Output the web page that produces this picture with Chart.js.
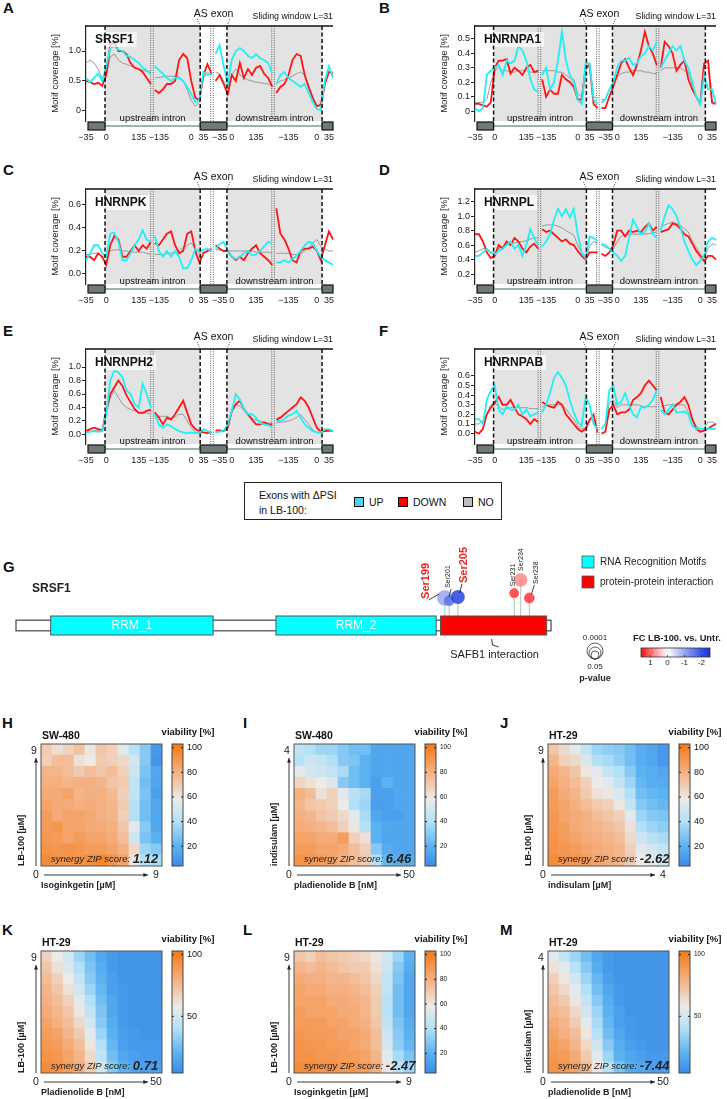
<!DOCTYPE html>
<html>
<head>
<meta charset="utf-8">
<title>LB-100 motif coverage, SRSF1 sites and drug synergy</title>
<script src="https://cdn.jsdelivr.net/npm/chart.js@4.4.1/dist/chart.umd.min.js"></script>
<style>
  body { margin: 0; background: #fff; }
  #page { position: relative; width: 727px; height: 1099px; overflow: hidden;
          font-family: "Liberation Sans", Arial, sans-serif; color: #111; }
  #page canvas { position: absolute; }
  .tag { position: absolute; font-weight: bold; font-size: 15px; line-height: 15px; }
  #psiLegend { position: absolute; left: 244px; top: 482px; width: 256px; height: 36px;
               border: 1.5px solid #222; font-size: 10.5px; }
  #psiLegend span { position: absolute; white-space: nowrap; line-height: 12px; }
  #psiLegend i { position: absolute; width: 10px; height: 10px; box-sizing: border-box; border: 1.5px solid #111; }
</style>
</head>
<body>
<div id="page">
  <div class="tag" style="left:3px;top:0px">A</div>
  <div class="tag" style="left:379px;top:0px">B</div>
  <div class="tag" style="left:3px;top:162px">C</div>
  <div class="tag" style="left:379px;top:162px">D</div>
  <div class="tag" style="left:3px;top:323px">E</div>
  <div class="tag" style="left:379px;top:323px">F</div>
  <div class="tag" style="left:3px;top:559px">G</div>
  <div class="tag" style="left:2px;top:715px">H</div>
  <div class="tag" style="left:243px;top:715px">I</div>
  <div class="tag" style="left:500px;top:715px">J</div>
  <div class="tag" style="left:2px;top:922px">K</div>
  <div class="tag" style="left:243px;top:922px">L</div>
  <div class="tag" style="left:500px;top:922px">M</div>
  <div id="psiLegend">
    <span style="left:14px;top:6px">Exons with ΔPSI</span>
    <span style="left:14px;top:21px">in LB-100:</span>
    <i style="left:109px;top:14px;background:#4fd3f3"></i><span style="left:124px;top:13px">UP</span>
    <i style="left:153px;top:14px;background:#ff0000"></i><span style="left:168px;top:13px">DOWN</span>
    <i style="left:218px;top:14px;background:#bdbdbd"></i><span style="left:233px;top:13px">NO</span>
  </div>
</div>
<script>
const FONT = '"Liberation Sans", Arial, sans-serif';
Chart.defaults.font.family = FONT;
Chart.defaults.color = '#222';

// ---------- A-F : motif coverage along the composite exon/intron axis ----------
const nPts = 62;
const tickIdx  = [0, 5, 13, 18, 26, 29, 33, 36, 42, 50, 57, 60];
const tickText = ['−35', '0', '135', '−135', '0', '35', '−35', '0', '135', '−135', '0', '35'];
const exonEdges = [4.7, 28.2, 34.8, 58.3];   // exon / intron borders (dashed)
const seqBreaks = [16.3, 31.1, 46.2];         // sequence breaks (dotted)

const motifGenes = ['SRSF1', 'HNRNPA1', 'HNRNPK', 'HNRNPL', 'HNRNPH2', 'HNRNPAB'];

const srsf1Up   = [0.55,0.48,0.55,0.62,0.5,0.75,1.05,1.08,1.02,1.0, 0.92,0.9,0.85,0.8,0.72,0.68,0.6,0.75,0.68,0.62, 0.55,0.5,0.55,0.55,0.5,0.4,0.28,0.15,0.18,0.65, 0.6,0.62,0.95,1.1,0.75,0.45,0.85,1.0,1.05,1.0, 0.92,0.88,0.95,0.88,0.85,0.8,0.62,0.45,0.6,0.65, 0.55,0.5,0.45,0.4,0.45,0.3,0.15,0.03,0.02,0.5, 0.75,0.55];
const srsf1Down = [0.5,0.48,0.45,0.47,0.42,0.6,1.1,1.15,1.0,1.0, 0.95,0.8,0.72,0.7,0.65,0.55,0.45,0.35,0.3,0.36, 0.45,0.45,0.5,0.85,0.95,0.88,0.5,0.22,0.18,0.6, 0.78,0.62,0.5,0.6,0.45,0.28,0.6,0.5,0.8,0.55, 0.7,0.6,0.72,0.75,0.62,0.55,0.4,0.3,0.4,0.45, 0.6,0.85,0.95,0.92,0.6,0.4,0.22,0.08,0.1,0.45, 0.65,0.62];
const srsf1No   = [0.8,0.85,0.8,0.7,0.55,0.6,0.9,0.95,0.85,0.8, 0.78,0.75,0.72,0.7,0.68,0.66,0.65,0.55,0.56,0.57, 0.58,0.58,0.58,0.57,0.5,0.35,0.18,0.08,0.15,0.55, 0.65,0.6,0.65,0.62,0.5,0.38,0.6,0.7,0.6,0.55, 0.52,0.5,0.48,0.47,0.46,0.45,0.43,0.45,0.5,0.52, 0.55,0.58,0.62,0.65,0.6,0.42,0.2,0.08,0.1,0.5, 0.65,0.65];

const hnrnpa1Up   = [0.02,0.0,0.02,0.25,0.28,0.3,0.32,0.25,0.35,0.33, 0.35,0.45,0.42,0.35,0.22,0.15,0.13,0.25,0.3,0.15, 0.2,0.35,0.55,0.35,0.25,0.2,0.08,0.05,0.33,0.33, 0.08,0.05,0.06,0.08,0.15,0.2,0.3,0.35,0.35,0.37, 0.32,0.33,0.38,0.4,0.45,0.42,0.48,0.3,0.35,0.4, 0.45,0.42,0.45,0.35,0.3,0.2,0.1,0.05,0.25,0.15, 0.15,0.05];
const hnrnpa1Down = [0.05,0.05,0.04,0.03,0.06,0.3,0.35,0.35,0.36,0.26, 0.3,0.28,0.25,0.3,0.32,0.27,0.28,0.22,0.1,0.15, 0.12,0.12,0.25,0.22,0.2,0.17,0.08,0.08,0.3,0.32, 0.05,0.02,0.02,0.02,0.1,0.17,0.25,0.33,0.36,0.3, 0.25,0.32,0.42,0.55,0.45,0.4,0.32,0.3,0.48,0.45, 0.4,0.28,0.32,0.35,0.22,0.15,0.1,0.05,0.33,0.35, 0.06,0.05];
const hnrnpa1No   = [0.06,0.06,0.06,0.08,0.2,0.28,0.3,0.28,0.28,0.27, 0.27,0.28,0.28,0.28,0.27,0.27,0.27,0.28,0.28,0.28, 0.28,0.27,0.27,0.25,0.23,0.22,0.12,0.1,0.3,0.3, 0.1,0.09,0.08,0.08,0.15,0.2,0.24,0.26,0.27,0.27, 0.28,0.28,0.28,0.27,0.27,0.26,0.26,0.28,0.3,0.3, 0.3,0.3,0.3,0.28,0.27,0.18,0.1,0.06,0.3,0.3, 0.05,0.05];

const hnrnpkUp   = [0.12,0.18,0.25,0.25,0.18,0.15,0.35,0.36,0.28,0.12, 0.12,0.18,0.25,0.3,0.38,0.3,0.28,0.33,0.2,0.15, 0.2,0.15,0.2,0.15,0.05,0.05,0.12,0.22,0.2,0.21, 0.22,0.2,0.22,0.26,0.28,0.2,0.15,0.13,0.15,0.18, 0.2,0.16,0.17,0.2,0.24,0.28,0.27,0.1,0.1,0.12, 0.1,0.13,0.16,0.2,0.25,0.28,0.27,0.2,0.15,0.12, 0.1,0.08];
const hnrnpkDown = [0.15,0.15,0.12,0.18,0.15,0.08,0.25,0.33,0.3,0.15, 0.15,0.2,0.25,0.2,0.25,0.22,0.28,0.27,0.25,0.3, 0.35,0.37,0.25,0.18,0.2,0.35,0.37,0.2,0.1,0.18, 0.2,0.22,0.25,0.22,0.2,0.2,0.15,0.12,0.15,0.12, 0.18,0.22,0.25,0.18,0.15,0.12,0.08,0.57,0.35,0.3, 0.22,0.12,0.1,0.2,0.22,0.22,0.24,0.2,0.12,0.25, 0.37,0.3];
const hnrnpkNo   = [0.17,0.17,0.18,0.18,0.15,0.17,0.2,0.21,0.21,0.2, 0.2,0.19,0.19,0.19,0.19,0.18,0.17,0.17,0.17,0.17, 0.18,0.18,0.19,0.2,0.23,0.25,0.27,0.22,0.18,0.19, 0.2,0.2,0.21,0.21,0.2,0.2,0.2,0.2,0.2,0.2, 0.2,0.2,0.19,0.19,0.19,0.19,0.18,0.18,0.18,0.18, 0.18,0.17,0.17,0.18,0.2,0.23,0.27,0.3,0.24,0.22, 0.2,0.2];

const hnrnplUp   = [0.45,0.45,0.5,0.55,0.5,0.47,0.52,0.55,0.6,0.65, 0.55,0.6,0.45,0.6,0.82,0.7,0.6,0.58,0.65,0.75, 0.95,1.1,1.0,1.1,0.98,1.1,0.75,0.5,0.42,0.72, 0.7,0.65,0.62,0.6,0.55,0.5,0.45,0.38,0.45,0.7, 0.95,0.85,0.75,0.78,0.9,0.75,0.7,0.8,1.0,1.15, 1.1,1.0,0.85,0.65,0.52,0.4,0.32,0.38,0.45,0.65, 0.7,0.67];
const hnrnplDown = [0.75,0.75,0.65,0.5,0.42,0.45,0.6,0.55,0.65,0.6, 0.7,0.65,0.55,0.5,0.58,0.62,0.55,0.82,0.78,0.8, 0.75,0.7,0.65,0.68,0.62,0.6,0.52,0.45,0.4,0.5, 0.5,0.5,0.48,0.45,0.5,0.6,0.8,0.8,0.72,0.8, 0.78,0.8,0.78,0.85,0.9,0.8,0.85,0.78,0.8,0.82, 0.9,0.88,0.83,0.75,0.72,0.62,0.52,0.45,0.38,0.45, 0.45,0.4];
const hnrnplNo   = [0.5,0.52,0.55,0.55,0.48,0.5,0.55,0.58,0.6,0.62, 0.63,0.64,0.65,0.66,0.68,0.7,0.7,0.86,0.88,0.88, 0.88,0.86,0.84,0.8,0.77,0.74,0.6,0.5,0.42,0.58, 0.65,0.62,0.6,0.57,0.55,0.55,0.65,0.72,0.74,0.75, 0.75,0.75,0.75,0.75,0.76,0.77,0.78,0.86,0.88,0.9, 0.92,0.9,0.87,0.83,0.78,0.66,0.57,0.48,0.42,0.55, 0.62,0.6];

const hnrnph2Up   = [0.03,0.04,0.05,0.04,0.05,0.3,0.8,0.95,0.92,0.85, 0.65,0.6,0.45,0.4,0.75,0.6,0.4,0.3,0.15,0.1, 0.15,0.12,0.08,0.05,0.03,0.02,0.03,0.02,0.03,0.08, 0.05,0.03,0.03,0.04,0.06,0.15,0.35,0.6,0.52,0.38, 0.3,0.3,0.25,0.17,0.15,0.14,0.1,0.2,0.2,0.23, 0.28,0.3,0.35,0.25,0.15,0.1,0.05,0.03,0.03,0.08, 0.08,0.05];
const hnrnph2Down = [0.05,0.08,0.1,0.08,0.06,0.35,0.6,0.7,0.8,0.72, 0.58,0.48,0.38,0.32,0.32,0.35,0.37,0.33,0.25,0.15, 0.25,0.22,0.3,0.4,0.5,0.32,0.15,0.08,0.05,0.03, 0.02,0.03,0.06,0.06,0.05,0.1,0.35,0.45,0.5,0.38, 0.3,0.22,0.15,0.15,0.18,0.15,0.15,0.22,0.25,0.3, 0.35,0.4,0.45,0.55,0.5,0.4,0.25,0.1,0.04,0.05, 0.06,0.05];
const hnrnph2No   = [0.05,0.05,0.06,0.06,0.07,0.3,0.55,0.65,0.55,0.45, 0.4,0.37,0.35,0.33,0.32,0.32,0.3,0.25,0.27,0.27, 0.27,0.24,0.26,0.3,0.3,0.2,0.1,0.03,0.02,0.03, 0.03,0.03,0.04,0.04,0.05,0.1,0.32,0.45,0.42,0.36, 0.28,0.24,0.21,0.2,0.18,0.17,0.17,0.17,0.18,0.19, 0.2,0.22,0.25,0.3,0.22,0.15,0.07,0.03,0.02,0.05, 0.05,0.05];

const hnrnpabUp   = [0.15,0.15,0.1,0.35,0.45,0.5,0.25,0.2,0.28,0.25, 0.25,0.3,0.2,0.25,0.18,0.2,0.22,0.22,0.3,0.42, 0.58,0.64,0.58,0.5,0.35,0.22,0.12,0.08,0.38,0.3, 0.1,0.05,0.05,0.1,0.45,0.5,0.3,0.33,0.42,0.3, 0.2,0.17,0.28,0.27,0.3,0.35,0.45,0.25,0.2,0.25, 0.3,0.22,0.22,0.23,0.2,0.08,0.05,0.05,0.05,0.05, 0.05,0.05];
const hnrnpabDown = [0.02,0.0,0.05,0.2,0.27,0.32,0.38,0.3,0.3,0.35, 0.27,0.2,0.18,0.15,0.1,0.15,0.12,0.33,0.3,0.28, 0.27,0.33,0.3,0.2,0.15,0.1,0.05,0.02,0.05,0.14, 0.2,0.01,0.0,0.02,0.25,0.3,0.2,0.22,0.22,0.25, 0.35,0.38,0.42,0.5,0.55,0.5,0.45,0.38,0.22,0.2, 0.25,0.3,0.33,0.38,0.3,0.15,0.05,0.02,0.03,0.05, 0.08,0.1];
const hnrnpabNo   = [0.1,0.1,0.14,0.2,0.3,0.32,0.28,0.25,0.26,0.27, 0.27,0.27,0.27,0.27,0.26,0.26,0.26,0.28,0.29,0.3, 0.3,0.3,0.3,0.26,0.2,0.15,0.08,0.05,0.06,0.15, 0.15,0.05,0.05,0.1,0.32,0.35,0.27,0.3,0.3,0.3, 0.3,0.3,0.29,0.28,0.28,0.28,0.28,0.28,0.29,0.3, 0.3,0.3,0.3,0.3,0.22,0.15,0.08,0.05,0.05,0.12, 0.12,0.1];

const motifSeries = [
  [srsf1Up, srsf1Down, srsf1No], [hnrnpa1Up, hnrnpa1Down, hnrnpa1No],
  [hnrnpkUp, hnrnpkDown, hnrnpkNo], [hnrnplUp, hnrnplDown, hnrnplNo],
  [hnrnph2Up, hnrnph2Down, hnrnph2No], [hnrnpabUp, hnrnpabDown, hnrnpabNo]
];
const yTickVals = [[0, 0.5, 1.0], [0, 0.1, 0.2, 0.3, 0.4, 0.5], [0, 0.2, 0.4, 0.6],
                   [0.2, 0.4, 0.6, 0.8, 1.0, 1.2], [0, 0.2, 0.4, 0.6, 0.8, 1.0], [0, 0.1, 0.2, 0.3, 0.4, 0.5, 0.6]];
const yTickText = [['0', '0.5', '1.0'], ['0', '0.1', '0.2', '0.3', '0.4', '0.5'], ['0.0', '0.2', '0.4', '0.6'],
                   ['0.2', '0.4', '0.6', '0.8', '1.0', '1.2'], ['0.0', '0.2', '0.4', '0.6', '0.8', '1.0'],
                   ['0.0', '0.1', '0.2', '0.3', '0.4', '0.5', '0.6']];
const yMins = [-0.167, -0.069, -0.087, 0.062, -0.141, -0.108];
const yMaxs = [1.417, 0.59, 0.739, 1.376, 1.267, 0.88];

// ---------- G : SRSF1 protein ----------
const protLen  = 248;
const domStart = [17, 121, 197];
const domEnd   = [92, 195, 246];
const domName  = ['RRM_1', 'RRM_2', ''];
const siteName = ['Ser199', 'Ser201', 'Ser205', 'Ser231', 'Ser234', 'Ser238'];
const sitePos  = [199, 201, 205, 231, 234, 238];
const siteFC   = [-1.0, -1.6, -2.2, 1.3, 0.8, 1.3];
const siteP    = [0.0002, 0.01, 0.0008, 0.02, 0.001, 0.01];
const siteHigh = [1.45, 1.3, 1.5, 1.7, 2.4, 1.45];   // stem heights
const siteBig  = [true, false, true, false, false, false];

// ---------- H-M : viability matrices (rows: top = highest dose) ----------
const doseSteps = ['0', '1', '2', '3', '4', '5', '6', '7', '8', '9', '10'];
const hmSw480Iso = [
  [70,63,67,73,60,72,68,55,42,30,10], [68,75,75,62,58,70,68,65,50,30,8],
  [78,78,75,70,75,72,75,68,48,28,15], [80,80,78,80,80,78,72,70,45,25,15],
  [82,82,85,78,80,80,76,68,45,28,12], [85,82,82,80,82,80,78,70,42,25,15],
  [88,82,85,85,83,80,78,68,40,25,15], [88,90,85,85,82,82,80,72,55,30,15],
  [90,88,85,88,85,85,82,75,48,28,20], [92,90,92,90,88,88,85,80,65,35,30],
  [95,92,92,92,95,98,92,85,60,40,38]];
const hmSw480Pla = [
  [45,40,35,35,30,25,25,15,15,15,15], [42,48,45,40,30,28,20,15,15,15,15],
  [55,50,48,45,38,25,20,15,15,15,15], [66,62,58,52,30,25,20,12,20,15,15],
  [80,75,62,68,55,42,38,12,12,15,15], [78,72,70,68,58,40,35,12,12,15,15],
  [80,78,72,70,65,55,38,15,12,12,15], [82,80,78,75,68,60,40,20,15,15,15],
  [85,85,82,82,88,68,62,20,15,15,15], [88,88,85,85,82,75,68,30,18,15,15],
  [92,90,88,85,80,75,70,40,22,18,18]];
const hmHt29Ind = [
  [72,65,55,45,35,32,30,25,18,15,10], [78,68,65,52,40,38,32,25,18,15,10],
  [82,78,72,60,55,45,40,30,20,18,15], [85,80,75,68,58,55,45,35,22,18,18],
  [88,82,78,70,62,60,52,40,25,22,20], [88,85,80,75,70,68,60,45,30,25,22],
  [90,85,82,80,75,72,68,55,35,30,28], [90,88,82,80,78,75,72,62,40,35,32],
  [92,88,85,82,80,78,75,65,48,42,38], [92,90,88,85,82,80,78,68,55,50,45],
  [95,92,90,88,85,82,78,70,58,55,48]];
const hmHt29Pla = [
  [68,58,50,35,25,15,10,8,8,8,8], [72,62,52,40,28,18,10,8,8,8,8],
  [75,68,58,45,30,20,12,8,8,8,8], [78,72,62,50,35,22,12,10,8,8,8],
  [80,75,68,55,40,25,15,10,8,8,8], [82,78,72,60,45,28,15,10,8,8,8],
  [85,80,75,65,50,30,18,10,8,8,8], [88,85,78,70,55,35,20,12,10,8,8],
  [90,88,82,75,60,40,22,12,10,10,10], [92,90,85,78,65,45,25,15,12,10,10],
  [95,92,88,80,70,50,30,20,15,12,12]];
const hmHt29Iso = [
  [72,68,75,72,70,68,65,60,50,35,20], [78,75,78,75,72,70,70,62,48,30,18],
  [82,80,80,78,78,75,72,65,45,28,15], [85,82,82,80,80,78,75,68,45,25,15],
  [85,85,85,82,82,80,78,70,42,25,15], [88,85,85,85,82,82,78,70,42,25,15],
  [88,88,88,85,85,82,80,72,45,28,18], [90,88,88,88,85,85,82,75,48,30,20],
  [92,90,90,88,88,85,82,75,50,32,22], [92,92,90,90,88,88,85,78,55,38,28],
  [95,95,92,92,90,90,88,80,60,42,35]];
const hmHt29PlaInd = [
  [55,45,35,25,15,10,8,8,8,8,8], [62,55,42,30,18,10,8,8,8,8,8],
  [68,60,50,35,22,12,8,8,8,8,8], [72,65,55,40,25,15,10,8,8,8,8],
  [75,70,60,45,30,18,10,8,8,8,8], [78,75,65,50,35,20,12,8,8,8,8],
  [82,78,70,55,38,22,12,10,8,8,8], [85,80,75,60,42,25,15,10,8,8,8],
  [88,85,78,65,48,30,18,12,10,8,8], [90,88,82,70,55,35,20,15,12,10,10],
  [92,90,85,75,60,42,28,18,15,12,12]];

const heatMaps  = [hmSw480Iso, hmSw480Pla, hmHt29Ind, hmHt29Pla, hmHt29Iso, hmHt29PlaInd];
const heatCell  = ['SW-480', 'SW-480', 'HT-29', 'HT-29', 'HT-29', 'HT-29'];
const heatXName = ['Isoginkgetin [µM]', 'pladienolide B [nM]', 'indisulam [µM]', 'Pladienolide B [nM]', 'Isoginkgetin [µM]', 'pladienolide B [nM]'];
const heatYName = ['LB-100 [µM]', 'indisulam [µM]', 'LB-100 [µM]', 'LB-100 [µM]', 'LB-100 [µM]', 'indisulam [µM]'];
const heatXMax  = ['9', '50', '4', '50', '9', '50'];
const heatYMax  = ['9', '4', '9', '9', '9', '4'];
const heatZip   = ['1.12', '6.46', '-2.62', '0.71', '-2.47', '-7.44'];
const heatCbTicks = [[20, 40, 60, 80, 100], [20, 40, 60, 80, 100], [20, 40, 60, 80, 100],
                     [50, 100], [20, 40, 60, 80, 100], [50, 100]];

// ---------- helpers ----------
const viaStops = [[4, '#3b8be8'], [20, '#5bb2f1'], [40, '#b2e0f6'], [58, '#ecebea'], [80, '#f4b080'], [103, '#f57914']];
const fcStops  = [[-2.5, '#1434e0'], [-2, '#3556e6'], [-1, '#9aa6f0'], [0, '#ffffff'], [1, '#ff6a6a'], [1.55, '#ff0a0a']];

function hex(c) { return [1, 3, 5].map(i => parseInt(c.slice(i, i + 2), 16)); }
function rampColor(stops, v, alpha) {
  if (v <= stops[0][0]) v = stops[0][0];
  if (v >= stops[stops.length - 1][0]) v = stops[stops.length - 1][0];
  let k = 0;
  while (k < stops.length - 2 && v > stops[k + 1][0]) k++;
  const [v0, c0] = stops[k], [v1, c1] = stops[k + 1];
  const t = (v - v0) / (v1 - v0), a = hex(c0), b = hex(c1);
  const rgb = a.map((x, i) => Math.round(x + (b[i] - x) * t));
  return alpha == null ? `rgb(${rgb})` : `rgba(${rgb},${alpha})`;
}
function line(ctx, x1, y1, x2, y2) { ctx.beginPath(); ctx.moveTo(x1, y1); ctx.lineTo(x2, y2); ctx.stroke(); }
function arrow(ctx, x1, y1, x2, y2) {
  line(ctx, x1, y1, x2, y2);
  const a = Math.atan2(y2 - y1, x2 - x1), h = 5;
  ctx.beginPath(); ctx.moveTo(x2, y2);
  ctx.lineTo(x2 - h * Math.cos(a - 0.4), y2 - h * Math.sin(a - 0.4));
  ctx.lineTo(x2 - h * Math.cos(a + 0.4), y2 - h * Math.sin(a + 0.4));
  ctx.closePath(); ctx.fill();
}
function addCanvas(left, top, w, h) {
  const c = document.createElement('canvas');
  c.width = w; c.height = h;
  c.style.left = left + 'px'; c.style.top = top + 'px';
  document.getElementById('page').appendChild(c);
  return c;
}

// ---------- motif panel decoration ----------
const motifDeco = {
  id: 'motifDeco',
  beforeDatasetsDraw(chart) {
    const { ctx, chartArea: ca } = chart, x = chart.scales.x;
    const px = v => x.getPixelForValue(v);
    ctx.save();
    ctx.fillStyle = '#e3e3e3';
    for (let k = 0; k < 4; k += 2) ctx.fillRect(px(exonEdges[k]), ca.top, px(exonEdges[k + 1]) - px(exonEdges[k]), ca.bottom - ca.top);
    ctx.strokeStyle = '#333'; ctx.lineWidth = 0.8; ctx.setLineDash([1, 1.3]);
    seqBreaks.forEach(b => [-1.3, 1.3].forEach(d => line(ctx, px(b) + d, ca.top, px(b) + d, ca.bottom)));
    ctx.restore();
  },
  afterDatasetsDraw(chart, args, opts) {
    const { ctx, chartArea: ca } = chart, x = chart.scales.x;
    const e = exonEdges.map(v => x.getPixelForValue(v));
    ctx.save();
    // gene name box
    ctx.font = 'bold 12px ' + FONT;
    const tw = ctx.measureText(opts.gene).width;
    ctx.fillStyle = 'rgba(255,255,255,0.7)';
    ctx.fillRect(ca.left + 6, ca.top + 6, tw + 6, 15);
    ctx.fillStyle = '#111'; ctx.textBaseline = 'middle'; ctx.textAlign = 'left';
    ctx.fillText(opts.gene, ca.left + 9, ca.top + 13.5);
    // exon borders
    ctx.strokeStyle = '#111'; ctx.lineWidth = 1.5; ctx.setLineDash([4, 2.5]);
    e.forEach(xp => line(ctx, xp, ca.top, xp, ca.bottom + 9));
    ctx.setLineDash([]);
    ctx.lineWidth = 1.6;
    line(ctx, ca.left, ca.top, ca.right, ca.top);
    // gene model under the plot
    const gy = ca.bottom + 5;
    ctx.strokeStyle = '#9fb2b2'; ctx.lineWidth = 1.8;
    line(ctx, e[0], gy, e[1], gy); line(ctx, e[2], gy, e[3], gy);
    ctx.fillStyle = '#6f7979'; ctx.strokeStyle = '#111'; ctx.lineWidth = 1.2;
    [[e[1], e[2]], [ca.left + 2, e[0]], [e[3], ca.right]].forEach(([a, b]) => {
      ctx.fillRect(a, gy - 4, b - a, 8); ctx.strokeRect(a, gy - 4, b - a, 8);
    });
    // texts
    ctx.fillStyle = '#111'; ctx.textAlign = 'center';
    ctx.font = '9.5px ' + FONT;
    ctx.fillText('upstream intron', (e[0] + e[1]) / 2, ca.bottom - 3);
    ctx.fillText('downstream intron', (e[2] + e[3]) / 2, ca.bottom - 3);
    ctx.font = '10.5px ' + FONT;
    ctx.fillText('AS exon', (e[1] + e[2]) / 2, ca.top - 12);
    ctx.font = '8.8px ' + FONT; ctx.textAlign = 'right';
    ctx.fillText('Sliding window L=31', ca.right, ca.top - 9);
    ctx.strokeStyle = '#333'; ctx.lineWidth = 0.8; ctx.setLineDash([1, 1.2]);
    line(ctx, e[1] - 3, ca.top - 7, e[1], ca.top);
    line(ctx, e[2] + 3, ca.top - 7, e[2], ca.top);
    ctx.restore();
  }
};

function covSet(label, data, color, width) {
  return {
    label, data, borderColor: color, borderWidth: width, pointRadius: 0, tension: 0, fill: false,
    segment: { borderColor: c => seqBreaks.some(b => c.p0DataIndex < b && c.p1DataIndex > b) ? 'rgba(0,0,0,0)' : undefined }
  };
}

const xLabels = Array.from({ length: nPts }, (_, i) => {
  const k = tickIdx.indexOf(i);
  return k >= 0 ? tickText[k] : '';
});
const motifLeft = [0, 389, 0, 389, 0, 389];
const motifTop  = [0, 0, 163, 163, 323, 323];

motifGenes.forEach((gene, k) => {
  const left = motifLeft[k];
  const cv = addCanvas(left, motifTop[k], left === 0 ? 363 : 338, 150);
  const [up, down, no] = motifSeries[k];
  new Chart(cv, {
    type: 'line',
    data: {
      labels: xLabels,
      datasets: [covSet('UP', up, '#1ff0f5', 1.8), covSet('DOWN', down, '#ff1414', 1.8), covSet('NO', no, '#9a9a9a', 1.0)]
    },
    options: {
      responsive: false, animation: false,
      layout: { padding: { left: 50, top: 26, right: left === 0 ? 30 : 5, bottom: 0 } },
      plugins: { legend: { display: false }, tooltip: { enabled: false }, motifDeco: { gene } },
      scales: {
        x: {
          type: 'category', offset: false,
          afterFit: s => { s.height = 29; },
          grid: { display: false, drawTicks: false }, border: { display: false },
          ticks: { autoSkip: false, maxRotation: 0, minRotation: 0, padding: 11, font: { size: 9 }, color: '#222' }
        },
        y: {
          min: yMins[k], max: yMaxs[k],
          afterFit: s => { s.width = 36; },
          afterBuildTicks: s => { s.ticks = yTickVals[k].map(v => ({ value: v })); },
          ticks: { callback: (v, i) => yTickText[k][i], font: { size: 9 }, color: '#222', padding: 1 },
          grid: { drawOnChartArea: false, tickLength: 4, color: '#222', lineWidth: 1 },
          border: { color: '#222', width: 1.2 },
          title: { display: true, text: 'Motif coverage [%]', font: { size: 9.5 }, color: '#222', padding: 0 }
        }
      }
    },
    plugins: [motifDeco]
  });
});

// ---------- G : protein with phospho-sites ----------
const protDeco = {
  id: 'protDeco',
  beforeDatasetsDraw(chart) {
    const { ctx } = chart, xs = chart.scales.x, ys = chart.scales.y;
    const X = v => xs.getPixelForValue(v), Y = v => ys.getPixelForValue(v);
    ctx.save();
    ctx.strokeStyle = '#a9c9b2'; ctx.lineWidth = 1;
    sitePos.forEach((p, i) => line(ctx, X(p), Y(siteHigh[i]), X(p), Y(0.5)));
    ctx.fillStyle = '#fff'; ctx.strokeStyle = '#444'; ctx.lineWidth = 1.2;
    ctx.fillRect(X(1), Y(0.28), X(protLen) - X(1), Y(-0.28) - Y(0.28));
    ctx.strokeRect(X(1), Y(0.28), X(protLen) - X(1), Y(-0.28) - Y(0.28));
    domStart.forEach((s, i) => {
      ctx.fillStyle = domName[i] ? '#00ffff' : '#ff0000';
      ctx.strokeStyle = '#555'; ctx.lineWidth = 1;
      ctx.fillRect(X(s), Y(0.5), X(domEnd[i]) - X(s), Y(-0.5) - Y(0.5));
      ctx.strokeRect(X(s), Y(0.5), X(domEnd[i]) - X(s), Y(-0.5) - Y(0.5));
      ctx.fillStyle = '#fff'; ctx.font = '12px ' + FONT; ctx.textAlign = 'center'; ctx.textBaseline = 'middle';
      ctx.fillText(domName[i], (X(s) + X(domEnd[i])) / 2, Y(0));
    });
    ctx.restore();
  },
  afterDatasetsDraw(chart) {
    const { ctx } = chart, xs = chart.scales.x, ys = chart.scales.y;
    const X = v => xs.getPixelForValue(v), Y = v => ys.getPixelForValue(v);
    const shift = [[-19, 1], [-1, -13], [6, -14], [-1, -7], [0, -9], [7, -14]];
    ctx.save();
    sitePos.forEach((p, i) => {
      const cx = X(p), cy = Y(siteHigh[i]);
      const lx = cx + shift[i][0], ly = cy + shift[i][1];
      if (Math.abs(shift[i][0]) > 3 || shift[i][1] < -12) {
        ctx.strokeStyle = '#111'; ctx.lineWidth = 0.8;
        line(ctx, lx + (shift[i][0] < 0 ? 3 : -2), ly + 1, cx + shift[i][0] * 0.3, cy - 4);
      }
      ctx.save();
      ctx.translate(lx, ly); ctx.rotate(-Math.PI / 2);
      ctx.textAlign = 'left'; ctx.textBaseline = 'middle';
      ctx.font = siteBig[i] ? 'bold 11px ' + FONT : '7px ' + FONT;
      ctx.fillStyle = siteBig[i] ? '#e8261e' : '#222';
      ctx.fillText(siteName[i], 0, 0);
      ctx.restore();
    });
    // SAFB1 annotation
    const sx = (X(domStart[2]) + X(domEnd[2])) / 2, by = Y(-0.5);
    ctx.strokeStyle = '#222'; ctx.lineWidth = 0.9;
    ctx.beginPath(); ctx.moveTo(sx - 2, by + 4); ctx.lineTo(sx - 1, by + 10); ctx.lineTo(sx + 5, by + 12); ctx.stroke();
    ctx.fillStyle = '#222'; ctx.font = '11px ' + FONT; ctx.textAlign = 'center'; ctx.textBaseline = 'middle';
    ctx.fillText('SAFB1 interaction', sx + 1, by + 20);
    ctx.font = 'bold 12px ' + FONT; ctx.textAlign = 'left';
    ctx.fillText('SRSF1', 32, 49);
    // domain legend
    [['#00ffff', 'RNA Recognition Motifs', 22], ['#ff0000', 'protein-protein interaction', 42]].forEach(([c, t, y]) => {
      ctx.fillStyle = c; ctx.fillRect(582, y - 6, 12, 12);
      ctx.strokeStyle = '#555'; ctx.lineWidth = 0.8; ctx.strokeRect(582, y - 6, 12, 12);
      ctx.fillStyle = '#222'; ctx.font = '10px ' + FONT; ctx.textAlign = 'left';
      ctx.fillText(t, 600, y);
    });
    // p-value legend
    ctx.strokeStyle = '#333'; ctx.lineWidth = 0.8;
    [8, 6, 4].forEach(r => { ctx.beginPath(); ctx.arc(595, 119 - r, r, 0, Math.PI * 2); ctx.stroke(); });
    ctx.fillStyle = '#222'; ctx.font = '8px ' + FONT; ctx.textAlign = 'center';
    ctx.fillText('0.0001', 595, 98); ctx.fillText('0.05', 595, 127);
    ctx.font = 'bold 9px ' + FONT; ctx.fillText('p-value', 595, 139);
    // FC colour bar
    ctx.font = 'bold 9.3px ' + FONT; ctx.textAlign = 'left';
    ctx.fillText('FC LB-100. vs. Untr.', 633, 98);
    const fx0 = 641, fx1 = 710, fy = 108;
    const g = ctx.createLinearGradient(fx0, 0, fx1, 0);
    fcStops.slice().reverse().forEach(([v, c]) => g.addColorStop((1.55 - v) / 4.05, c));
    ctx.fillStyle = g; ctx.fillRect(fx0, fy, fx1 - fx0, 9);
    ctx.strokeStyle = '#333'; ctx.strokeRect(fx0, fy, fx1 - fx0, 9);
    ctx.fillStyle = '#222'; ctx.font = '8px ' + FONT; ctx.textAlign = 'center';
    [1, 0, -1, -2].forEach(v => {
      const tx = fx0 + (1.55 - v) / 4.05 * (fx1 - fx0);
      line(ctx, tx, fy + 7, tx, fy + 9);
      ctx.fillText(String(v), tx, fy + 15);
    });
    ctx.restore();
  }
};

new Chart(addCanvas(0, 540, 727, 160), {
  type: 'bubble',
  data: {
    datasets: [{
      data: sitePos.map((p, i) => ({ x: p, y: siteHigh[i], r: 4 + (-Math.log10(siteP[i]) - 1.3) / 2.7 * 4 })),
      backgroundColor: siteFC.map(v => rampColor(fcStops, v, 0.85)),
      borderColor: siteFC.map(v => rampColor(fcStops, v)),
      borderWidth: 0.5, clip: false
    }]
  },
  options: {
    responsive: false, animation: false,
    layout: { padding: { left: 16, right: 176, top: 28.5, bottom: 36.5 } },
    plugins: { legend: { display: false }, tooltip: { enabled: false } },
    scales: { x: { display: false, min: 1, max: protLen }, y: { display: false, min: -2, max: 3 } }
  },
  plugins: [protDeco]
});

// ---------- H-M : synergy heat maps ----------
const cbMin = 4, cbMax = 103;
const cbFont = [9, 6.5, 9, 9, 6.5, 6.5];
const heatDeco = {
  id: 'heatDeco',
  afterDatasetsDraw(chart, args, o) {
    const { ctx, chartArea: ca } = chart;
    ctx.save();
    ctx.strokeStyle = '#555'; ctx.lineWidth = 1;
    ctx.strokeRect(ca.left, ca.top, ca.right - ca.left, ca.bottom - ca.top);
    ctx.fillStyle = '#111'; ctx.textBaseline = 'middle'; ctx.textAlign = 'left';
    ctx.font = 'bold 10.5px ' + FONT; ctx.fillText(heatCell[o.k], ca.left + 1, ca.top - 8);
    ctx.font = 'bold 9.5px ' + FONT; ctx.textAlign = 'center';
    ctx.fillText('viability [%]', ca.right + 26, ca.top - 12);
    // colour bar
    const bx = ca.right + 10, bw = 11, h = ca.bottom - ca.top;
    const g = ctx.createLinearGradient(0, ca.bottom, 0, ca.top);
    viaStops.forEach(([v, c]) => g.addColorStop((v - cbMin) / (cbMax - cbMin), c));
    ctx.fillStyle = g; ctx.fillRect(bx, ca.top, bw, h);
    ctx.strokeStyle = '#444'; ctx.strokeRect(bx, ca.top, bw, h);
    ctx.fillStyle = '#111'; ctx.font = cbFont[o.k] + 'px ' + FONT; ctx.textAlign = 'left';
    heatCbTicks[o.k].forEach(v => {
      const ty = ca.bottom - (v - cbMin) / (cbMax - cbMin) * h;
      ctx.strokeStyle = '#222';
      line(ctx, bx, ty, bx + 2, ty); line(ctx, bx + bw - 2, ty, bx + bw, ty);
      ctx.fillText(String(v), bx + bw + 4, ty);
    });
    // axes arrows
    ctx.strokeStyle = '#222'; ctx.fillStyle = '#222'; ctx.lineWidth = 0.9;
    arrow(ctx, ca.left - 5, ca.bottom, ca.left - 5, ca.top + 14);
    arrow(ctx, ca.left + 3, ca.bottom + 9, ca.right - 14, ca.bottom + 9);
    ctx.font = '10.5px ' + FONT; ctx.textAlign = 'center';
    ctx.fillText(heatYMax[o.k], ca.left - 7, ca.top + 7);
    ctx.fillText('0', ca.left - 5, ca.bottom + 9);
    ctx.fillText(heatXMax[o.k], ca.right - 6, ca.bottom + 9);
    ctx.font = 'bold 9px ' + FONT; ctx.textAlign = 'left';
    ctx.fillText(heatXName[o.k], ca.left, ca.bottom + 20);
    ctx.save();
    ctx.translate(ca.left - 19, ca.bottom); ctx.rotate(-Math.PI / 2);
    ctx.fillText(heatYName[o.k], 0, 0);
    ctx.restore();
    // synergy score
    ctx.font = 'italic 9.5px ' + FONT;
    ctx.fillText('synergy ZIP score: ', ca.left + 10, ca.bottom - 7);
    const w = ctx.measureText('synergy ZIP score: ').width;
    ctx.font = 'bold italic 13px ' + FONT;
    ctx.fillText(heatZip[o.k], ca.left + 10 + w, ca.bottom - 7);
    ctx.restore();
  }
};

const heatLeft = [0, 253, 507, 0, 253, 507];
const heatTop  = [715, 715, 715, 922, 922, 922];
heatMaps.forEach((rows, k) => {
  const cv = addCanvas(heatLeft[k], heatTop[k], 220, 185);
  new Chart(cv, {
    type: 'bar',
    data: {
      labels: doseSteps,
      datasets: rows.slice().reverse().map(row => ({
        data: row.map(() => 1),
        backgroundColor: row.map(v => rampColor(viaStops, v)),
        borderWidth: 0, barPercentage: 1, categoryPercentage: 1
      }))
    },
    options: {
      responsive: false, animation: false,
      layout: { padding: { left: 41, right: 58, top: 29, bottom: 34 } },
      plugins: { legend: { display: false }, tooltip: { enabled: false }, heatDeco: { k } },
      scales: { x: { display: false, stacked: true }, y: { display: false, stacked: true, min: 0, max: 11 } }
    },
    plugins: [heatDeco]
  });
});
</script>
</body>
</html>
